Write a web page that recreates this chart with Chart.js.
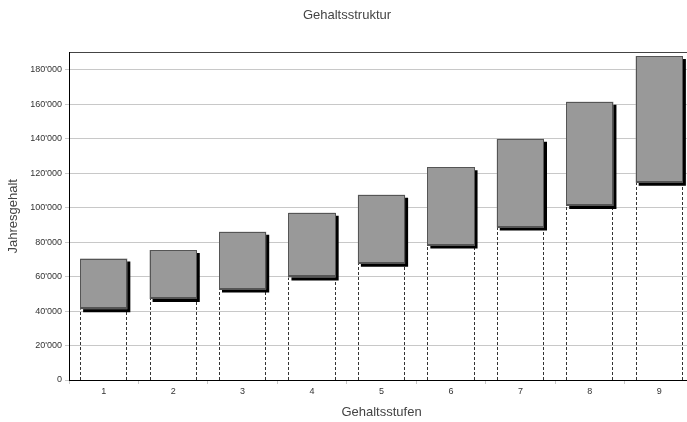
<!DOCTYPE html>
<html>
<head>
<meta charset="utf-8">
<script src="https://cdn.jsdelivr.net/npm/chart.js@4/dist/chart.umd.min.js"></script>
<style>
html, body { margin: 0; padding: 0; background: #fff; overflow: hidden; }
#wrap { width: 700px; height: 422px; }
</style>
</head>
<body>
<div id="wrap"><canvas id="gehaltChart"></canvas></div>
<script>
// Gehaltsstufen und Bandbreiten (min / max Jahresgehalt)
const stufen = ['1', '2', '3', '4', '5', '6', '7', '8', '9'];
const minGehalt = [41000, 47000, 52500, 59500, 67500, 78000, 88500, 101000, 114500];
const maxGehalt = [70500, 75500, 86000, 97000, 107500, 123500, 140000, 161500, 188000];
const yTickValues = [0, 20000, 40000, 60000, 80000, 100000, 120000, 140000, 160000, 180000];
const yMax = 190000;

const font = 'Arial, "Liberation Sans", Helvetica, sans-serif';

function formatCHF(v) {
  return String(v).replace(/\B(?=(\d{3})+(?!\d))/g, "'");
}

// dotted lines from 0 up to the lower end of each bar
const baseLines = {
  id: 'baseLines',
  beforeDatasetsDraw(chart) {
    const ctx = chart.ctx;
    const y0 = chart.scales.y.getPixelForValue(0);
    const meta = chart.getDatasetMeta(0);
    ctx.save();
    ctx.strokeStyle = '#333';
    ctx.lineWidth = 1;
    ctx.setLineDash([3, 2]);
    meta.data.forEach(function(bar) {
      const half = bar.width / 2;
      const xs = [Math.round(bar.x - half) + 0.5, Math.round(bar.x + half) - 0.5];
      xs.forEach(function(x) {
        ctx.beginPath();
        ctx.moveTo(x, y0);
        ctx.lineTo(x, bar.base);
        ctx.stroke();
      });
    });
    ctx.restore();
  }
};

// hard black drop shadow under the bars, then a thin dark outline
const barShadow = {
  id: 'barShadow',
  beforeDatasetDraw(chart) {
    const ctx = chart.ctx;
    ctx.save();
    ctx.shadowColor = '#000';
    ctx.shadowBlur = 0;
    ctx.shadowOffsetX = 3;
    ctx.shadowOffsetY = 3;
  },
  afterDatasetDraw(chart, args) {
    const ctx = chart.ctx;
    ctx.restore();
    ctx.save();
    ctx.strokeStyle = '#555';
    ctx.lineWidth = 1;
    args.meta.data.forEach(function(bar) {
      const l = Math.round(bar.x - bar.width / 2) + 0.5;
      const r = Math.round(bar.x + bar.width / 2) - 0.5;
      const t = Math.round(bar.y) + 0.5;
      const b = Math.round(bar.base) - 0.5;
      ctx.strokeRect(l, t, r - l, b - t);
      ctx.beginPath();
      ctx.moveTo(l, b - 1);
      ctx.lineTo(r, b - 1);
      ctx.stroke();
    });
    ctx.restore();
  }
};

const ctx = document.getElementById('gehaltChart').getContext('2d');
const gehaltChart = new Chart(ctx, {
  type: 'bar',
  data: {
    labels: stufen,
    datasets: [{
      label: 'Bandbreite',
      data: stufen.map((s, i) => [minGehalt[i], maxGehalt[i]]),
      backgroundColor: '#999999',
      borderWidth: 0,
      barPercentage: 0.68,
      categoryPercentage: 1
    }]
  },
  options: {
    responsive: true,
    maintainAspectRatio: false,
    animation: false,
    layout: { padding: { left: 0, right: 6, top: 0, bottom: 0 } },
    plugins: {
      legend: { display: false },
      tooltip: { enabled: false },
      title: {
        display: true,
        text: 'Gehaltsstruktur',
        color: '#444',
        font: { family: font, size: 13, weight: 'normal' },
        padding: { top: 8, bottom: 29 }
      }
    },
    scales: {
      x: {
        afterFit: function(axis) { axis.height = 42; },
        border: { color: '#000', width: 1 },
        grid: {
          offset: true,
          drawOnChartArea: false,
          drawTicks: true,
          tickLength: 4,
          tickColor: '#c8c8c8'
        },
        ticks: {
          color: '#333',
          font: { family: font, size: 9 },
          padding: 2
        },
        title: {
          display: true,
          text: 'Gehaltsstufen',
          color: '#444',
          font: { family: font, size: 13 },
          padding: { top: 4, bottom: 2 }
        }
      },
      y: {
        min: 0,
        max: yMax,
        afterFit: function(axis) { axis.width = 69; },
        afterBuildTicks: function(axis) {
          axis.ticks = yTickValues.concat([yMax]).map(v => ({ value: v }));
        },
        border: { color: '#000', width: 1 },
        grid: {
          color: c => (c.tick && c.tick.value === yMax) ? '#444' : '#c8c8c8',
          tickColor: c => (c.tick && c.tick.value === yMax) ? 'rgba(0,0,0,0)' : '#c8c8c8',
          tickLength: 4
        },
        ticks: {
          color: '#333',
          font: { family: font, size: 9 },
          padding: 3,
          callback: v => v === yMax ? '' : formatCHF(v)
        },
        title: {
          display: true,
          text: 'Jahresgehalt',
          color: '#444',
          font: { family: font, size: 13 },
          padding: { top: 6, bottom: 0 }
        }
      }
    }
  },
  plugins: [baseLines, barShadow]
});
</script>
</body>
</html>
